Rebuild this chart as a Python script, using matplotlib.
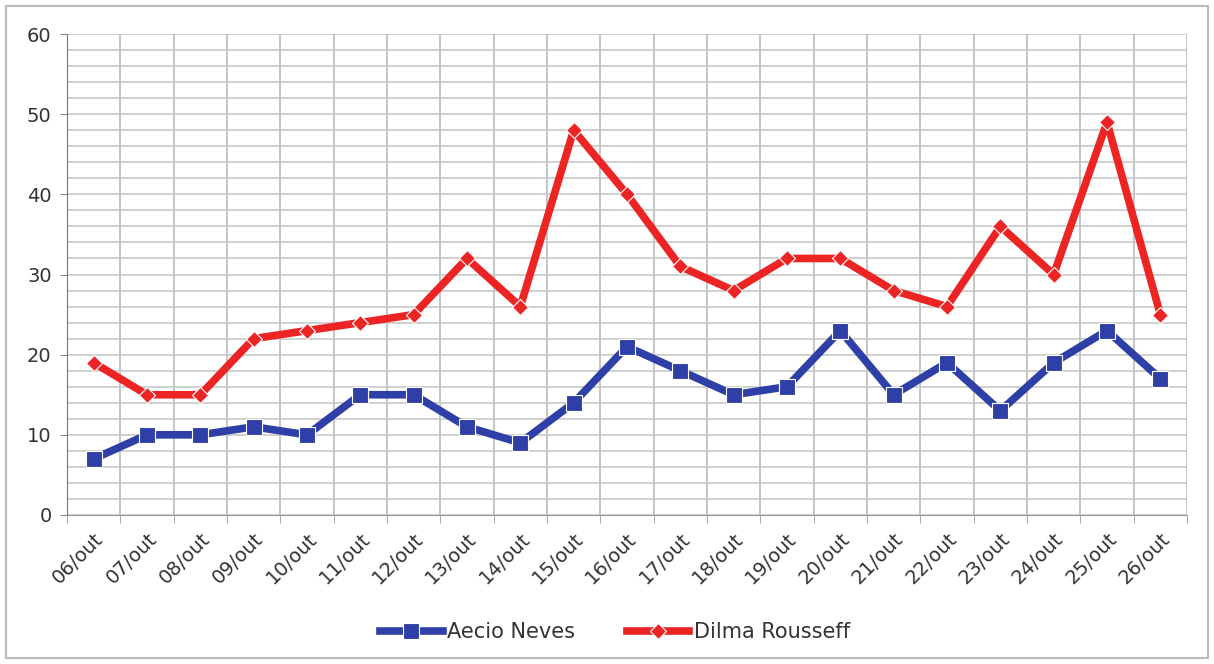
import numpy as np
import matplotlib
matplotlib.use('Agg')
import matplotlib.pyplot as plt
from matplotlib.patches import Rectangle

# data
dates = ['06/out', '07/out', '08/out', '09/out', '10/out', '11/out', '12/out',
         '13/out', '14/out', '15/out', '16/out', '17/out', '18/out', '19/out',
         '20/out', '21/out', '22/out', '23/out', '24/out', '25/out', '26/out']
aecio = [7, 10, 10, 11, 10, 15, 15, 11, 9, 14, 21, 18, 15, 16, 23, 15, 19, 13, 19, 23, 17]
dilma = [19, 15, 15, 22, 23, 24, 25, 32, 26, 48, 40, 31, 28, 32, 32, 28, 26, 36, 30, 49, 25]

blue = '#2f3fa8'
red = '#ec2424'

fig = plt.figure(figsize=(12.14, 6.64), dpi=100)
ax = fig.add_axes([67 / 1214, 1 - 515 / 664, (1187 - 67) / 1214, (515 - 34) / 664])

x = np.arange(len(dates))
ax.plot(x, aecio, color=blue, lw=5.5, marker='s', ms=11, mfc=blue, mec='white', mew=0.8,
        label='Aecio Neves', zorder=3)
ax.plot(x, dilma, color=red, lw=5.5, marker='D', ms=8, mfc=red, mec='white', mew=0.8,
        label='Dilma Rousseff', zorder=3)

ax.set_xlim(-0.5, len(dates) - 0.5)
ax.set_ylim(0, 60)

# y grid: major every 10, minor every 2
ax.set_yticks(np.arange(0, 61, 10))
ax.set_yticks(np.arange(0, 61, 2), minor=True)
ax.grid(which='both', axis='y', color='#c8c8c8', lw=1.2)

# x: category labels at centres, grid at boundaries
ax.set_xticks(x)
ax.set_xticklabels(dates, rotation=45, ha='right', rotation_mode='anchor')
ax.set_xticks(np.arange(-0.5, len(dates)), minor=True)
ax.grid(which='minor', axis='x', color='#bbbbbb', lw=1.2)
ax.tick_params(axis='x', which='major', length=0, pad=10, labelsize=14, labelcolor='#333333')
ax.tick_params(axis='x', which='minor', length=6, color='#999999')
ax.tick_params(axis='y', which='major', length=5, color='#888888', labelsize=14,
               labelcolor='#333333', pad=6)
ax.tick_params(axis='y', which='minor', length=0)

for s in ['top', 'right']:
    ax.spines[s].set_visible(False)
ax.spines['left'].set_color('#777777')
ax.spines['bottom'].set_color('#999999')
ax.set_axisbelow(True)

fig.legend(loc='center', bbox_to_anchor=(615 / 1214, 1 - 632 / 664), ncol=2, frameon=False,
           fontsize=15, handlelength=3, columnspacing=2.5, handletextpad=0.2,
           labelcolor='#333333')

# outer frame of the chart
fig.patches.append(Rectangle((6 / 1214, 6 / 664), 1202 / 1214, 652 / 664,
                             transform=fig.transFigure, fill=False, ec='#bbbbbb', lw=1.5))

fig.savefig('out.png', dpi=100)
